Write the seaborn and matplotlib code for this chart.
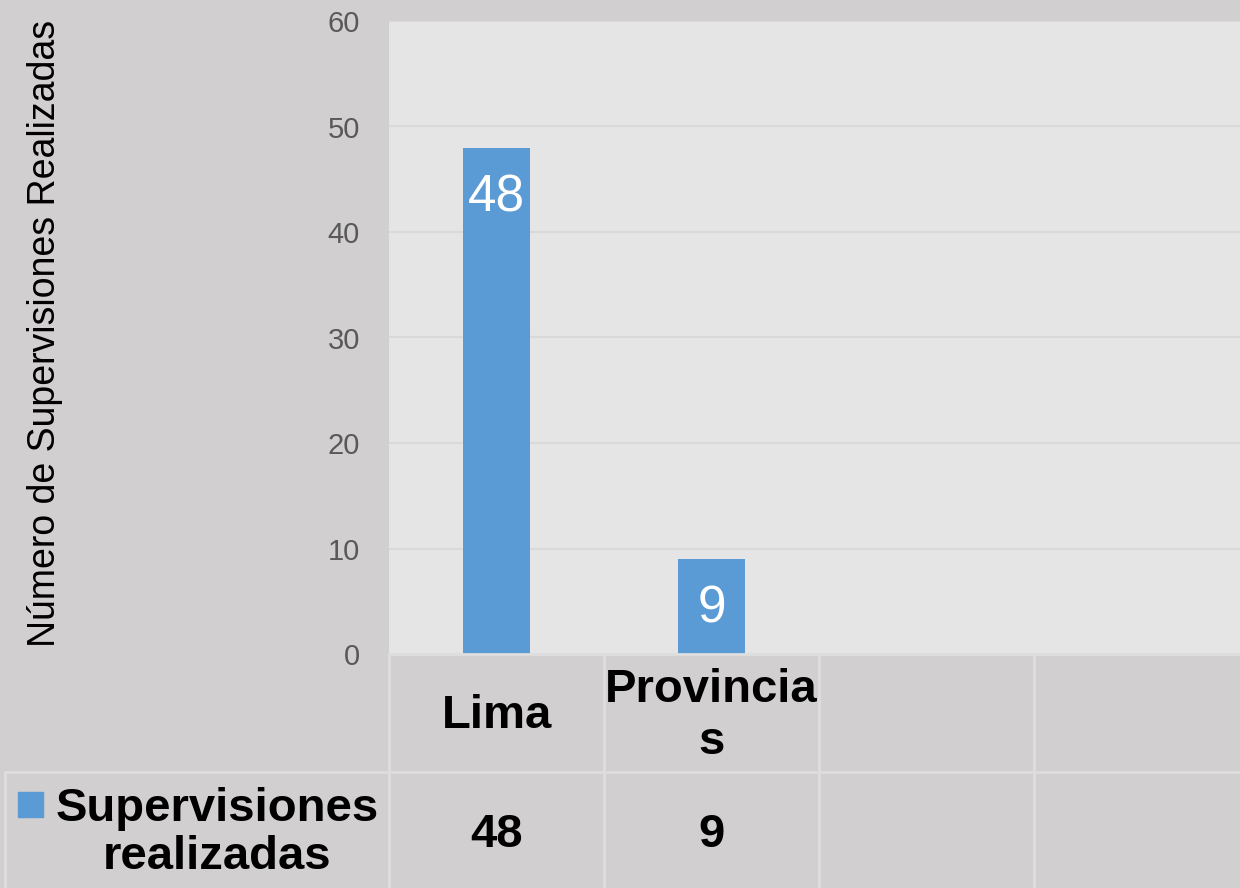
import numpy as np
import pandas as pd
import seaborn as sns
import matplotlib.pyplot as plt
import matplotlib.patches as mpatches
from matplotlib.lines import Line2D
from matplotlib.transforms import blended_transform_factory

# datos del grafico
categorias = ["Lima", "Provincias"]
etiquetas_tabla = ["Lima", "Provincia\ns"]
supervisiones = [48, 9]
serie = "Supervisiones realizadas"
ticks_y = [0, 10, 20, 30, 40, 50, 60]

# colores
fondo = "#d1cfd0"
area = "#e5e5e5"
azul = "#5b9bd5"
linea_tabla = "#dedede"

sns.set_style("white", {"axes.facecolor": area, "figure.facecolor": fondo})
plt.rcParams["font.family"] = ["Liberation Sans", "DejaVu Sans"]

W, H = 1240, 888
fig = plt.figure(figsize=(W / 100, H / 100), dpi=100)
ax = fig.add_axes([389 / W, 1 - 654 / H, 1 - 389 / W, (654 - 21) / H])

df = pd.DataFrame({"zona": categorias, "valor": supervisiones})
sns.barplot(data=df, x="zona", y="valor", color=azul, saturation=1, width=0.31,
            linewidth=0, edgecolor=azul, ax=ax)

ax.set_ylim(0, 60)
ax.set_yticks(ticks_y)
ax.set_xlim(-0.5, 3.458)
ax.yaxis.grid(True, color="#d9d9d9", lw=1.5)
ax.set_axisbelow(True)
for s in ax.spines.values():
    s.set_visible(False)
ax.tick_params(axis="y", length=0, pad=21, labelsize=21, labelcolor="#595959")
ax.tick_params(axis="x", length=0, labelbottom=False)
ax.set_xlabel("")
ax.set_ylabel("Número de Supervisiones Realizadas", fontsize=27, color="#000000")
ax.yaxis.set_label_coords(63 / W, 1 - 333 / H, transform=fig.transFigure)

# etiquetas de datos dentro de las barras
for i, v in enumerate(supervisiones):
    ax.annotate(str(v), xy=(i, v), xytext=(0, -36), textcoords="offset points",
                ha="center", va="center", color="white", fontsize=37)

# tabla de datos abajo
def fy(y):
    return 1 - y / H

trans = blended_transform_factory(ax.transData, fig.transFigure)
for xd in [-0.5, 0.5, 1.5, 2.5]:
    fig.add_artist(Line2D([xd, xd], [fy(654), fy(888)], transform=trans, color=linea_tabla, lw=2))
fig.add_artist(Line2D([389 / W, 1], [fy(654), fy(654)], transform=fig.transFigure, color=linea_tabla, lw=2))
fig.add_artist(Line2D([5 / W, 1], [fy(772), fy(772)], transform=fig.transFigure, color=linea_tabla, lw=2))
fig.add_artist(Line2D([5 / W, 5 / W], [fy(772), fy(888)], transform=fig.transFigure, color=linea_tabla, lw=2))

for i, lab in enumerate(etiquetas_tabla):
    ax.text(i, fy(716), lab, transform=trans, ha="center", va="center",
            fontsize=34, fontweight="bold", color="black", linespacing=1.22)
    ax.text(i, fy(835), str(supervisiones[i]), transform=trans, ha="center", va="center",
            fontsize=34, fontweight="bold", color="black")

fig.add_artist(mpatches.Rectangle((18 / W, fy(817)), 25 / W, 25 / H,
                                  transform=fig.transFigure, color=azul))
fig.text(217 / W, fy(833), serie.replace(" ", "\n"), ha="center", va="center",
         fontsize=34, fontweight="bold", color="black", linespacing=1.12)

fig.savefig("out.png", dpi=100, facecolor=fondo)
